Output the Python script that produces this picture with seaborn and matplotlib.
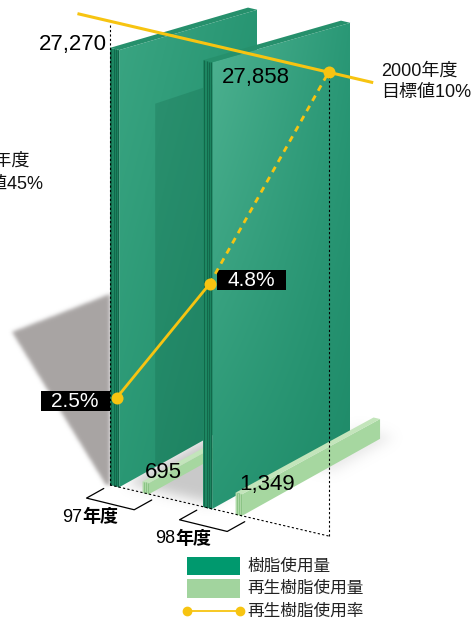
import numpy as np
import pandas as pd
import matplotlib
matplotlib.use("Agg")
import matplotlib.pyplot as plt
import seaborn as sns
from matplotlib.patches import Polygon, Rectangle
from matplotlib.path import Path

# ---------------- data ----------------
fiscal_years = ["97", "98"]
year_suffix = "年度"
resin_use = [27270, 27858]          # 樹脂使用量
recycled_use = [695, 1349]          # 再生樹脂使用量
rate_years = ["97年度", "98年度", "2000年度"]
recycled_rate = [2.5, 4.8, 10.0]    # 再生樹脂使用率 (%)
target_note_right = ["2000年度", "目標値10%"]
target_note_left = ["2000年度", "目標値45%"]
legend_labels = ["樹脂使用量", "再生樹脂使用量", "再生樹脂使用率"]

# ---------------- styling ----------------
sns.set_theme(style="white")
plt.rcParams["font.family"] = ["Liberation Sans", "Noto Sans CJK JP"]
CJK = ["Noto Sans CJK JP", "Liberation Sans"]

W, H = 472, 622
GREEN = "#00996e"
LIGHT = "#a2d49e"
YELLOW = "#f7c411"

fig = plt.figure(figsize=(W / 100, H / 100), dpi=100)
ax = fig.add_axes([0, 0, 1, 1])
ax.set_xlim(0, W)
ax.set_ylim(H, 0)
ax.axis("off")

# oblique view: c = category axis, d = depth, h = value
X0, Y0 = 110.0, 485.0
CX, CY = 93.0, 21.7
DX, DY = 138.0, 77.0
S0, K = 0.01603, 0.916


def proj(c, d, h):
    x = X0 + CX * c + DX * d
    y = Y0 + CY * c - DY * d - h * S0 * (1 - (1 - K) * d)
    return x, y


def pts(corners):
    return np.array([proj(*p) for p in corners])


def blur(a, s):
    r = int(3 * s)
    k = np.exp(-0.5 * (np.arange(-r, r + 1) / s) ** 2)
    k /= k.sum()
    a = np.apply_along_axis(lambda m: np.convolve(m, k, mode="same"), 1, a)
    a = np.apply_along_axis(lambda m: np.convolve(m, k, mode="same"), 0, a)
    return a


def soft_shadow(poly, rgb, alpha, sigma, z):
    yy, xx = np.mgrid[0:H, 0:W]
    inside = Path(poly).contains_points(
        np.c_[xx.ravel() + 0.5, yy.ravel() + 0.5]).reshape(H, W).astype(float)
    m = np.clip(blur(inside, sigma), 0, 1) * alpha
    img = np.zeros((H, W, 4))
    img[..., :3] = np.array(rgb) / 255.0
    img[..., 3] = m
    ax.imshow(img, extent=(0, W, H, 0), origin="upper", zorder=z,
              interpolation="bilinear", aspect="auto")


def grad_face(poly, tl, tr, bl, br, z):
    patch = Polygon(poly, closed=True, facecolor="none", edgecolor="none", zorder=z)
    ax.add_patch(patch)
    x0, x1 = poly[:, 0].min(), poly[:, 0].max()
    y0, y1 = poly[:, 1].min(), poly[:, 1].max()
    n = 64
    u = np.linspace(0, 1, n)[None, :, None]
    v = np.linspace(0, 1, n)[:, None, None]
    tl, tr, bl, br = [np.array(c)[None, None, :] / 255.0 for c in (tl, tr, bl, br)]
    img = (1 - u) * (1 - v) * tl + u * (1 - v) * tr + (1 - u) * v * bl + u * v * br
    im = ax.imshow(img, extent=(x0, x1, y1, y0), origin="upper", zorder=z,
                   interpolation="bilinear", aspect="auto")
    im.set_clip_path(patch)


def flat(poly, color, z, alpha=1.0):
    ax.add_patch(Polygon(poly, closed=True, facecolor=color, edgecolor="none",
                         alpha=alpha, zorder=z))


def stripes(c0, t, h, n, color, z, lw=0.9):
    for f in np.linspace(0.15, 0.9, n):
        p = pts([(c0 + f * t, 0, 0), (c0 + f * t, 0, h)])
        ax.plot(p[:, 0], p[:, 1], color=color, lw=lw, zorder=z, solid_capstyle="butt")


T_MAIN, T_REC, C_REC = 0.10, 0.07, 0.35

# cast shadow of the first panel on the left
h0 = resin_use[0]
sx, sy = proj(0, 0, 0)
_, sy_top = proj(0, 0, 0.437 * h0)
_, sy_left = proj(0, 0, 0.35 * h0)
soft_shadow(np.array([(sx - 98, sy_left), (sx, sy_top), (sx, sy), (sx - 4, sy)]),
            (168, 164, 163), 1.0, 2.0, 1)

# ground shading between the panels and beside the second one
soft_shadow(pts([(0.1, 0.05, 0), (1.0, 0.05, 0), (1.0, 1.0, 0), (0.1, 1.0, 0)]),
            (165, 165, 165), 0.6, 6.0, 1.5)
soft_shadow(pts([(1.1, 0.6, 0), (1.5, 0.6, 0), (1.5, 1.05, 0), (1.1, 1.05, 0)]),
            (190, 190, 190), 0.35, 6.0, 1.5)

face_cols = [
    ((58, 165, 130), (40, 150, 115), (42, 152, 116), (30, 135, 102)),
    ((78, 178, 145), (42, 152, 118), (40, 150, 115), (30, 138, 104)),
]

for i in range(2):
    c0 = float(i)
    h = resin_use[i]
    zb = 3 + i * 3
    # large side face
    grad_face(pts([(c0 + T_MAIN, 0, h), (c0 + T_MAIN, 1, h),
                   (c0 + T_MAIN, 1, 0), (c0 + T_MAIN, 0, 0)]), *face_cols[i], zb)
    if i == 0:
        # darker inner band on the first panel
        flat(pts([(c0 + T_MAIN, 0.26, 0), (c0 + T_MAIN, 0.75, 0),
                  (c0 + T_MAIN, 0.75, 0.85 * h), (c0 + T_MAIN, 0.26, 0.85 * h)]),
             (0.05, 0.36, 0.25), zb + 0.1, alpha=0.22)
    # top face
    flat(pts([(c0, 0, h), (c0 + T_MAIN, 0, h), (c0 + T_MAIN, 1, h), (c0, 1, h)]),
         "#26906c", zb + 0.2)
    # front end face with grooves
    flat(pts([(c0, 0, 0), (c0 + T_MAIN, 0, 0), (c0 + T_MAIN, 0, h), (c0, 0, h)]),
         "#1f8c66", zb + 0.2)
    stripes(c0, T_MAIN, h, 4, "#12694b", zb + 0.3)

    # recycled-resin bar
    cr = c0 + C_REC
    hr = recycled_use[i]
    zr = zb + 1
    flat(pts([(cr + T_REC, 0, 0), (cr + T_REC, 1, 0), (cr + T_REC, 1, hr),
              (cr + T_REC, 0, hr)]), "#a6d7a0", zr)
    flat(pts([(cr, 0, hr), (cr + T_REC, 0, hr), (cr + T_REC, 1, hr), (cr, 1, hr)]),
         "#c3e5bb", zr + 0.1)
    flat(pts([(cr, 0, 0), (cr + T_REC, 0, 0), (cr + T_REC, 0, hr), (cr, 0, hr)]),
         "#b2dcab", zr + 0.1)
    stripes(cr, T_REC, hr, 3, "#8cc486", zr + 0.2, lw=0.8)

# value labels
x, y = proj(0, 0, resin_use[0])
ax.text(x - 3, y + 2, f"{resin_use[0]:,}", ha="right", va="baseline",
        fontsize=16, color="black", zorder=20)
x, y = proj(1, 0, resin_use[1])
ax.text(x + 19, y + 23, f"{resin_use[1]:,}", ha="left", va="baseline",
        fontsize=16, color="black", zorder=20)
for i, v in enumerate(recycled_use):
    x, y = proj(i + C_REC, 0, v)
    ax.text(x + 2 + 2 * i, y - 3, f"{v:,}", ha="left", va="baseline",
            fontsize=16, color="black", zorder=20)

# category brackets and labels
for i, yr in enumerate(fiscal_years):
    b = pts([(i, -0.045, 0), (i, -0.17, 0), (i + 0.52, -0.175, 0), (i + 0.52, -0.048, 0)])
    ax.plot(b[:, 0], b[:, 1], color="black", lw=0.9, zorder=20)
    x, y = proj(i, 0, 0)
    ax.text(x - 28, y + 32, yr, ha="right", va="center", fontsize=13,
            color="black", zorder=20)
    ax.text(x - 28, y + 32, year_suffix, ha="left", va="center", fontsize=13,
            fontweight="bold", family=CJK, color="black", zorder=20)

# ---------------- recycled-rate line ----------------
rate_pos = [0.07, 1.07, 2.35]
P = 0.72
bot_px, top_px = 588.1, 0.0
ax_r = fig.add_axes([0, (H - bot_px) / H, 1, (bot_px - top_px) / H])
ax_r.set_facecolor("none")
ax_r.set_yscale("function", functions=(lambda r: np.power(np.clip(r, 0, None), P),
                                       lambda v: np.power(np.clip(v, 0, None), 1 / P)))
ax_r.set_xlim(0, W)
ax_r.set_ylim(0, 11.996)
ax_r.axis("off")

rate_df = pd.DataFrame({
    "x": [proj(c, 0, 0)[0] for c in rate_pos],
    "rate": recycled_rate,
    "year": rate_years,
})
sns.lineplot(data=rate_df.iloc[:2], x="x", y="rate", ax=ax_r, color=YELLOW,
             lw=2.0, sort=False, zorder=5)
sns.lineplot(data=rate_df.iloc[1:], x="x", y="rate", ax=ax_r, color=YELLOW,
             lw=2.0, sort=False, linestyle=(0, (2.2, 2.0)), zorder=5)
sns.scatterplot(data=rate_df, x="x", y="rate", ax=ax_r, color=YELLOW, s=75,
                linewidth=0, zorder=6)
ax_r.set_xlabel("")
ax_r.set_ylabel("")


def to_px(xv, rv):
    disp = ax_r.transData.transform((xv, rv))
    return ax.transData.inverted().transform(disp)


# target line at the 2000 goal, running along the category direction
tx, ty = to_px(rate_df["x"].iloc[2], recycled_rate[2])
cs = np.array([-0.35, 2.83]) - rate_pos[2]
ax.plot(tx + cs * CX, ty + cs * CY, color=YELLOW, lw=2.2, zorder=18,
        solid_capstyle="butt")

# dotted guides
x0b, y0b = proj(0, 0, 0)
_, y0t = proj(0, 0, resin_use[0] * 1.057)
ax.plot([x0b, x0b], [y0b, y0t], color="black", lw=0.8, ls=(0, (2, 2)), zorder=19)
g = pts([(0, 0, 0), (rate_pos[2], 0, 0)])
ax.plot(g[:, 0], g[:, 1], color="black", lw=0.8, ls=(0, (2, 2)), zorder=19)
ax.plot([tx, tx], [g[1, 1], ty], color="black", lw=0.8, ls=(0, (2, 2)), zorder=19)

# rate value boxes
for i, side in [(0, -1), (1, 1)]:
    px_, py_ = to_px(rate_df["x"].iloc[i], recycled_rate[i])
    bw, bh = 69, 20
    if side < 0:
        bx, by = px_ - 7 - bw, py_ + 3 - bh / 2
    else:
        bx, by = px_ + 7, py_ - 4 - bh / 2
    ax.add_patch(Rectangle((bx, by), bw, bh, facecolor="black", edgecolor="none",
                           zorder=21))
    ax.text(bx + bw / 2, by + bh / 2 + 0.5, f"{recycled_rate[i]}%", ha="center",
            va="center", color="white", fontsize=15, zorder=22)

# target notes
ax.text(381, 71, target_note_right[0], ha="left", va="center", fontsize=13,
        color="#111111", zorder=20)
ax.text(381, 93, target_note_right[1], ha="left", va="center", fontsize=13,
        color="#111111", zorder=20)
ax.text(-47, 161, target_note_left[0], ha="left", va="center", fontsize=13,
        color="#111111", zorder=20)
ax.text(-47, 184, target_note_left[1], ha="left", va="center", fontsize=13,
        color="#111111", zorder=20)

# ---------------- legend ----------------
lx0, lx1 = 187, 240
ax.add_patch(Rectangle((lx0, 557), lx1 - lx0, 18, facecolor=GREEN, edgecolor="none", zorder=20))
ax.add_patch(Rectangle((lx0, 579), lx1 - lx0, 19, facecolor=LIGHT, edgecolor="none", zorder=20))
ax.plot([lx0, lx1], [611, 611], color=YELLOW, lw=1.3, zorder=20)
ax.plot([lx0, lx1], [611, 611], ls="none", marker="o", ms=6, color=YELLOW, zorder=21)
for yy, lab in zip([566, 588.5, 611], legend_labels):
    ax.text(247, yy, lab, ha="left", va="center", fontsize=12, family=CJK,
            color="#222222", zorder=20)

ax.set_xlim(0, W)
ax.set_ylim(H, 0)
fig.savefig("out.png", dpi=100)
